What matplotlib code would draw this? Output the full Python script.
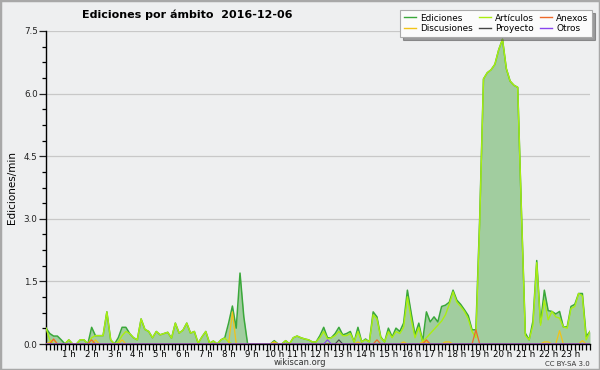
import matplotlib
matplotlib.use("Agg")
import matplotlib.pyplot as plt
from matplotlib.lines import Line2D
from matplotlib.patches import Rectangle
from matplotlib.ticker import MultipleLocator, FixedLocator, FixedFormatter

# 10-minute bins over the day (144 values)
ediciones = [
    0.38, 0.25, 0.19, 0.19, 0.1, 0, 0.1, 0, 0, 0.1, 0.1, 0,
    0.4, 0.2, 0.2, 0.2, 0.77, 0.1, 0, 0.15, 0.4, 0.4, 0.25, 0.15,
    0.1, 0.6, 0.35, 0.3, 0.15, 0.3, 0.22, 0.25, 0.28, 0.14, 0.5, 0.26,
    0.33, 0.5, 0.26, 0.3, 0.02, 0.17, 0.3, 0.02, 0.07, 0, 0.1, 0.15,
    0.5, 0.91, 0.38, 1.7, 0.65, 0, 0, 0, 0, 0, 0, 0,
    0.08, 0, 0, 0.08, 0, 0.15, 0.19, 0.15, 0.12, 0.1, 0.05, 0.05,
    0.2, 0.4, 0.15, 0.15, 0.25, 0.4, 0.22, 0.25, 0.3, 0.05, 0.4, 0.05,
    0.12, 0.05, 0.77, 0.65, 0.17, 0.05, 0.38, 0.17, 0.38, 0.3, 0.5, 1.29,
    0.74, 0.22, 0.5, 0.06, 0.77, 0.53, 0.65, 0.53, 0.9, 0.93, 1.0, 1.29,
    1.05, 0.95, 0.82, 0.68, 0.34, 0.34, 3.0, 6.35, 6.5, 6.57, 6.7, 7.05,
    7.3, 6.6, 6.3, 6.2, 6.15, 3.1, 0.26, 0.1, 0.55, 2.0, 0.5, 1.29,
    0.8, 0.78, 0.72, 0.78, 0.41, 0.41, 0.9, 0.95, 1.21, 1.21, 0.18, 0.3,
]
articulos = [
    0.38, 0.1, 0, 0, 0, 0, 0.1, 0, 0, 0.1, 0.1, 0,
    0.15, 0.2, 0.2, 0.2, 0.77, 0.1, 0, 0.05, 0.2, 0.3, 0.25, 0.15,
    0.1, 0.6, 0.35, 0.3, 0.15, 0.3, 0.22, 0.25, 0.28, 0.14, 0.5, 0.26,
    0.33, 0.5, 0.26, 0.3, 0.02, 0.17, 0.3, 0.02, 0.07, 0, 0.1, 0.14,
    0.05, 0, 0, 0, 0, 0, 0, 0, 0, 0, 0, 0,
    0.05, 0, 0, 0.08, 0, 0.15, 0.19, 0.15, 0.12, 0.1, 0.05, 0.05,
    0.15, 0.3, 0.12, 0.15, 0.2, 0.3, 0.2, 0.2, 0.25, 0.05, 0.3, 0.05,
    0.1, 0.05, 0.7, 0.6, 0.15, 0.05, 0.3, 0.15, 0.3, 0.25, 0.4, 1.13,
    0.6, 0.15, 0.4, 0.06, 0.15, 0.25, 0.35, 0.45, 0.55, 0.7, 0.95, 1.25,
    1.0, 0.9, 0.78, 0.6, 0.3, 0.15, 2.9, 6.35, 6.5, 6.57, 6.7, 7.05,
    7.3, 6.6, 6.3, 6.2, 6.15, 3.1, 0.2, 0.1, 0.45, 1.95, 0.45, 1.05,
    0.58, 0.78, 0.65, 0.62, 0.41, 0.38, 0.85, 0.9, 1.21, 1.15, 0.1, 0.3,
]
# sparse small series: {bin index: value}
discusiones_pts = {1: 0.05, 2: 0.1, 13: 0.1, 20: 0.1, 49: 0.77, 60: 0.05, 82: 0.05,
                   94: 0.05, 99: 0.05, 100: 0.05, 105: 0.05, 106: 0.05,
                   131: 0.05, 132: 0.05, 135: 0.32, 141: 0.08}
anexos_pts = {2: 0.12, 12: 0.1, 87: 0.1, 100: 0.1, 113: 0.34}
proyecto_pts = {77: 0.1}
otros_pts = {74: 0.1}

hour_labels = ["%d h" % h for h in range(1, 24)]
series_labels = ["Ediciones", "Discusiones", "Artículos", "Proyecto", "Anexos", "Otros"]

n = len(ediciones)
x = [i / 6 for i in range(n)]

def dense(pts):
    return [pts.get(i, 0) for i in range(n)]

discusiones = dense(discusiones_pts)
anexos = dense(anexos_pts)
proyecto = dense(proyecto_pts)
otros = dense(otros_pts)

bg = "#eeeff0"
c_ed_fill = "#a1cd9f"
c_ed_line = "#3aa83a"
c_art = "#aaee11"
c_dis = "#f2c318"
c_anx = "#ee6a2a"
c_pro = "#444444"
c_otr = "#8844ee"

fig = plt.figure(figsize=(6, 3.7), dpi=100, facecolor=bg)
ax = fig.add_axes([46 / 600, 1 - 344 / 370, 544 / 600, (344 - 31) / 370])
ax.set_facecolor(bg)

ax.fill_between(x, ediciones, 0, color=c_ed_fill, lw=0, zorder=2)
ax.plot(x, ediciones, color=c_ed_line, lw=1.1, zorder=3)
ax.plot(x, articulos, color=c_art, lw=1.0, zorder=4)
ax.plot(x, discusiones, color=c_dis, lw=0.9, zorder=5)
ax.plot(x, anexos, color=c_anx, lw=0.9, zorder=5)
ax.plot(x, proyecto, color=c_pro, lw=0.8, zorder=5)
ax.plot(x, otros, color=c_otr, lw=0.8, zorder=5)

ax.set_xlim(0, (n - 1) / 6)
ax.set_ylim(0, 7.5)

for s in ["top", "right"]:
    ax.spines[s].set_visible(False)
ax.spines["left"].set_linewidth(1.0)
ax.spines["bottom"].set_linewidth(1.0)

ax.yaxis.set_major_locator(MultipleLocator(1.5))
ax.yaxis.set_minor_locator(MultipleLocator(0.375))
ax.yaxis.set_major_formatter(plt.FuncFormatter(lambda v, p: "%.1f" % v))
ax.grid(axis="y", which="major", color="#c8c8c8", lw=0.9, zorder=1)

ax.xaxis.set_major_locator(FixedLocator(list(range(1, 24))))
ax.xaxis.set_major_formatter(FixedFormatter(hour_labels))
ax.xaxis.set_minor_locator(MultipleLocator(1 / 6))

ax.tick_params(axis="y", which="major", length=5, width=0.9, labelsize=6.3, pad=1, colors="#222222")
ax.tick_params(axis="y", which="minor", length=3, width=0.9)
ax.tick_params(axis="x", which="both", length=4, width=0.9, labelsize=6.2, pad=0.3)

ax.set_ylabel("Ediciones/min", fontsize=7.5, labelpad=5)

fig.text(187 / 600, 1 - 15 / 370, "Ediciones por ámbito  2016-12-06",
         ha="center", va="center", fontsize=8, fontweight="bold")
fig.text(300 / 600, 1 - 367 / 370, "wikiscan.org", ha="center", va="bottom", fontsize=6, color="#333333")
fig.text(590 / 600, 1 - 367 / 370, "CC BY-SA 3.0", ha="right", va="bottom", fontsize=5, color="#333333")

colors = [c_ed_line, c_dis, c_art, c_pro, c_anx, c_otr]
handles = [Line2D([0], [0], color=c, lw=1) for c in colors]
leg = fig.legend(handles, series_labels, ncol=3, loc="upper right",
                 bbox_to_anchor=(592 / 600, 1 - 10 / 370), borderaxespad=0,
                 fontsize=6.4, handlelength=1.3, handletextpad=0.5, columnspacing=0.7,
                 labelspacing=0.2, borderpad=0.4, fancybox=False, shadow=True,
                 frameon=True)
leg.get_frame().set_facecolor("#fbfbfb")
leg.get_frame().set_edgecolor("#aaaaaa")
leg.get_frame().set_linewidth(0.8)

fig.patches.append(Rectangle((0, 0), 1, 1, transform=fig.transFigure, fill=False,
                             edgecolor="#a8a8a8", lw=2.5))

fig.savefig("out.png", dpi=100, facecolor=bg)
